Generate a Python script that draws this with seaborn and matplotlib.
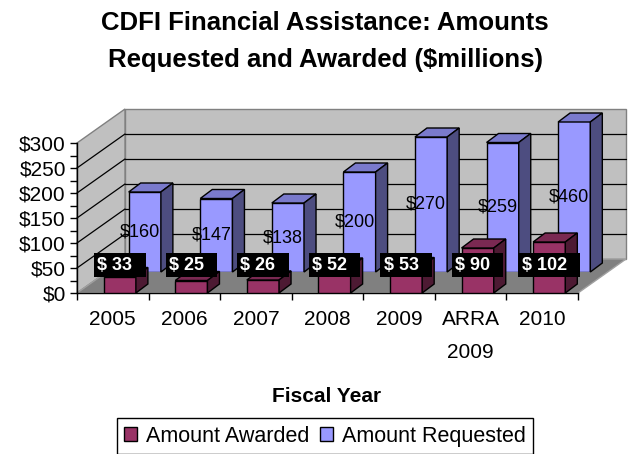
import matplotlib
matplotlib.use("Agg")
import matplotlib.pyplot as plt
import matplotlib.transforms as mtransforms
from matplotlib.patches import Polygon, Patch
from matplotlib.lines import Line2D
import numpy as np
import pandas as pd
import seaborn as sns

# ---------------- data ----------------
categories = ["2005", "2006", "2007", "2008", "2009", "ARRA\n2009", "2010"]
amount_awarded = [33, 25, 26, 52, 53, 90, 102]
amount_requested = [160, 147, 138, 200, 270, 259, 460]
series_names = ["Amount Awarded", "Amount Requested"]
y_ticks = [0, 50, 100, 150, 200, 250, 300]
y_tick_labels = ["$0", "$50", "$100", "$150", "$200", "$250", "$300"]
title = "CDFI Financial Assistance: Amounts\nRequested and Awarded ($millions)"
x_title = "Fiscal Year"

front_colors = ["#993366", "#9999FF"]
top_colors = ["#7A2952", "#7A7ACC"]
side_colors = ["#4D1A33", "#4D4D80"]

sns.set_theme(style="white")
plt.rcParams["font.family"] = ["Liberation Sans", "DejaVu Sans"]
plt.rcParams["text.color"] = "black"

W, H = 631, 454
fig = plt.figure(figsize=(W / 100, H / 100), dpi=100)
L, R, T, B = 77, 578, 143, 293
ax = fig.add_axes([L / W, 1 - B / H, (R - L) / W, (B - T) / H])
ax.patch.set_visible(False)

n = len(categories)
df = pd.DataFrame({
    "year": categories * 2,
    "amount": amount_awarded + amount_requested,
    "series": [series_names[0]] * n + [series_names[1]] * n,
})
sns.barplot(data=df, x="year", y="amount", hue="series", hue_order=series_names,
            order=categories, palette=front_colors, dodge=False, width=0.45,
            edgecolor="black", linewidth=1.0, saturation=1, legend=False,
            errorbar=None, ax=ax)
ax.set_xlim(-0.5, n - 0.5)
ax.set_ylim(y_ticks[0], y_ticks[-1])
ymax = ax.get_ylim()[1]


def px_off(dx, dy):
    return mtransforms.ScaledTranslation(dx / 100, dy / 100, fig.dpi_scale_trans)


ident = mtransforms.IdentityTransform()
D = np.array([48, 34])      # depth of chart walls
d = np.array([12, 9])       # depth of each bar
off_a = (7, 0)
off_r = (32, 21)

# ---------------- walls & floor ----------------
p00 = ax.transAxes.transform((0, 0))
p01 = ax.transAxes.transform((0, 1))
p10 = ax.transAxes.transform((1, 0))
p11 = ax.transAxes.transform((1, 1))
ax.add_artist(Polygon([p00 + D, p10 + D, p11 + D, p01 + D], closed=True, transform=ident,
                      fc="#C0C0C0", ec="#808080", lw=1, zorder=0.1, clip_on=False))
ax.add_artist(Polygon([p00, p01, p01 + D, p00 + D], closed=True, transform=ident,
                      fc="#C0C0C0", ec="#808080", lw=1, zorder=0.1, clip_on=False))
ax.add_artist(Polygon([p00, p10, p10 + D, p00 + D], closed=True, transform=ident,
                      fc="#808080", ec="#A0A0A0", lw=1, zorder=0.2, clip_on=False))

back_t = ax.transData + px_off(*D)
for v in y_ticks[1:-1]:
    ax.add_artist(Line2D([-0.5, n - 0.5], [v, v], transform=back_t, color="black",
                         lw=0.9, zorder=0.3, clip_on=False))
    a = ax.transData.transform((-0.5, v))
    ax.add_artist(Line2D([a[0], a[0] + D[0]], [a[1], a[1] + D[1]], transform=ident,
                         color="black", lw=0.9, zorder=0.3, clip_on=False))

# ---------------- bars in 3D ----------------
clip_r = mtransforms.TransformedBbox(mtransforms.Bbox([[0, 0], [1, 1]]),
                                     ax.transAxes + px_off(*off_r))
for k, (cont, off, z) in enumerate(zip(ax.containers[:2], [off_a, off_r], [3, 1])):
    trans = ax.transData + px_off(*off)
    for bar in cont:
        bar.set_transform(trans)
        bar.set_zorder(z)
        if k == 1:
            bar.set_clip_path(None)
            bar.set_clip_box(clip_r)
            bar.set_clip_on(True)
        x0, w, y0 = bar.get_x(), bar.get_width(), bar.get_y()
        top = min(y0 + bar.get_height(), ymax)
        tl = trans.transform((x0, top))
        tr = trans.transform((x0 + w, top))
        br = trans.transform((x0 + w, y0))
        ax.add_artist(Polygon([tl, tr, tr + d, tl + d], closed=True, transform=ident,
                              fc=top_colors[k], ec="black", lw=1, zorder=z, clip_on=False))
        ax.add_artist(Polygon([tr, br, br + d, tr + d], closed=True, transform=ident,
                              fc=side_colors[k], ec="black", lw=1, zorder=z, clip_on=False))

# ---------------- value labels ----------------
lab_r = ax.transData + px_off(off_r[0] - 5, off_r[1])
for i, v in enumerate(amount_requested):
    ax.text(i, min(v, ymax) / 2, f"${v}", transform=lab_r, ha="center", va="center",
            fontsize=13, color="black", zorder=2, clip_on=False)
lab_a = ax.transData + px_off(*off_a)
for i, v in enumerate(amount_awarded):
    ax.text(i, 56, f"$ {v}  ", transform=lab_a, ha="center", va="center",
            fontsize=13, fontweight="bold", color="white", zorder=4, clip_on=False,
            bbox=dict(boxstyle="square,pad=0.18", fc="black", ec="none"))

# ---------------- axes styling ----------------
ax.set_xlabel("")
ax.set_ylabel("")
ax.set_yticks(y_ticks, y_tick_labels)
ax.set_yticks(np.array(y_ticks[:-1]) + 25, minor=True)
ax.set_xticks(range(n), categories)
ax.set_xticks(np.arange(n + 1) - 0.5, minor=True)
ax.tick_params(axis="y", which="both", left=True, direction="out", length=5,
               width=1, color="black", labelsize=15, pad=3, labelcolor="black")
ax.tick_params(axis="x", which="major", bottom=True, length=0, pad=12,
               labelsize=15, labelcolor="black")
ax.tick_params(axis="x", which="minor", bottom=True, direction="out", length=5,
               width=1, color="black")
for lab in ax.get_xticklabels():
    lab.set_linespacing(1.95)
for s in ["top", "right"]:
    ax.spines[s].set_visible(False)
for s in ["left", "bottom"]:
    ax.spines[s].set_color("black")
    ax.spines[s].set_linewidth(1)
    ax.spines[s].set_zorder(2)

fig.text(325 / W, 1 - 11 / H, title, ha="center", va="top", fontsize=18.5,
         fontweight="bold", linespacing=1.7, color="black")
fig.text(327 / W, 1 - 402 / H, x_title, ha="center", va="baseline", fontsize=15,
         fontweight="bold", color="black")

handles = [Patch(facecolor=c, edgecolor="black", linewidth=1) for c in front_colors]
leg = fig.legend(handles, series_names, loc="upper center",
                 bbox_to_anchor=(325 / W, 1 - 418 / H), ncol=2, fontsize=15.5,
                 frameon=True, fancybox=False, framealpha=1, edgecolor="black",
                 handlelength=0.6, handleheight=0.6, handletextpad=0.4,
                 columnspacing=0.5, borderpad=0.35, borderaxespad=0)
leg.get_frame().set_linewidth(1)
for t in leg.get_texts():
    t.set_color("black")

fig.savefig("out.png", dpi=100)
